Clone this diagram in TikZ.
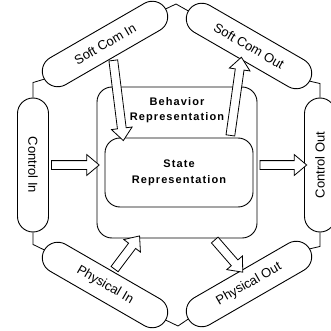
\documentclass[tikz,border=0pt]{standalone}
\usepackage{fontspec}
\setmainfont{Liberation Sans}
\usetikzlibrary{shapes.misc,shapes.arrows,calc}
\newcommand\hollowarrow[2]{%
  \path let \p1=(#1), \p2=(#2), \n1={veclen(\x2-\x1,\y2-\y1)} in
    (#1) -- node[fatarrow, minimum height=\n1]{} (#2);}
\begin{document}
\begin{tikzpicture}[x=1pt,y=-1pt, line width=0.9pt,
  pill/.style={draw, rounded rectangle, minimum height=31pt, inner sep=0pt,
    fill=white, font=\fontsize{13}{15}\selectfont},
  slantpill/.style={pill, minimum width=140pt},
  uprightpill/.style={pill, minimum width=134pt},
  box/.style={draw, rectangle, rounded corners=15pt, fill=white, inner sep=0pt},
  boxtext/.style={align=center,
    font=\fontsize{11}{15}\selectfont\bfseries\addfontfeature{LetterSpace=10}},
  fatarrow/.style={single arrow, draw, fill=white, inner xsep=0pt,
    inner ysep=4pt, minimum width=0pt, single arrow head extend=6pt,
    single arrow tip angle=80, sloped, allow upside down, anchor=center,
    line width=0.8pt},
  link/.style={draw, line width=0.8pt}
]
\useasboundingbox (0,0) rectangle (330,331);

% central boxes
\node[box, minimum width=160pt, minimum height=151pt] (bh) at (177,162.5) {};
\node[boxtext] (bhtext) at (177,110.5) {Behavior\\Representation};
\node[box, minimum width=148pt, minimum height=69pt, align=center,
  font=\fontsize{11}{16}\selectfont\bfseries\addfontfeature{LetterSpace=10}]
  (st) at (179,172.5) {State\\Representation};

% arrow end points on the boxes
\coordinate (sciT) at (123,138);
\coordinate (scoB) at (230,138);
\coordinate (phiT) at (138,238);
\coordinate (phoB) at (213,238);

% outer ring of pills
\node[uprightpill, rotate=-90] (ci)  at (33,165)  {Control In};
\node[uprightpill, rotate=90]  (co)  at (320,165) {Control Out};
\node[slantpill, rotate=30]    (sci) at (105,44)  {Soft Com In};
\node[slantpill, rotate=-30]   (sco) at (249,46)  {Soft Com Out};
\node[slantpill, rotate=-30]   (phi) at (105,285) {Physical In};
\node[slantpill, rotate=30]    (pho) at (249,284) {Physical Out};

% hollow flow arrows
\hollowarrow{sci.south}{sciT}
\hollowarrow{scoB}{sco.south}
\hollowarrow{ci.north}{ci.north -| bh.west}
\hollowarrow{co.north -| bh.east}{co.north}
\hollowarrow{phi.north}{phiT}
\hollowarrow{phoB}{pho.north}

% links between neighbouring pills
\coordinate (topj) at (176,4);
\coordinate (botj) at (178,326);
\draw[link] (ci.west) -- ++(0,-15) -- (sci.west);
\draw[link] (sci.east) -- (topj) -- (sco.west);
\draw[link] (co.east) -- ++(0,-14) -- (sco.east);
\draw[link] (ci.east) -- ++(0,12) -- (phi.west);
\draw[link] (co.west) -- ++(0,14) -- (pho.east);
\draw[link] (phi.east) -- (botj) -- (pho.west);
\end{tikzpicture}
\end{document}
